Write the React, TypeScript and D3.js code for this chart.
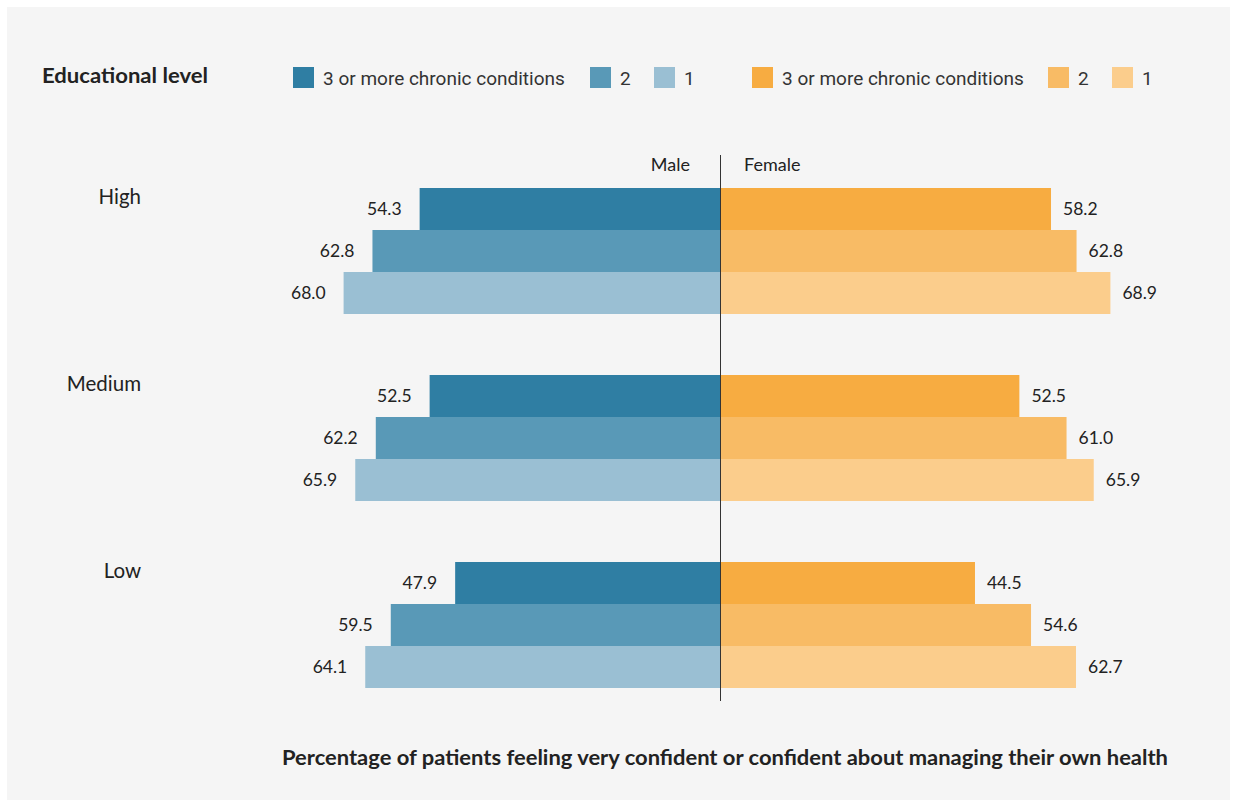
import React from "react";
import * as d3 from "d3";

const levels = ["High", "Medium", "Low"];
const conditions = ["3 or more chronic conditions", "2", "1"];
const maleValues = [
  [54.3, 62.8, 68.0],
  [52.5, 62.2, 65.9],
  [47.9, 59.5, 64.1],
];
const femaleValues = [
  [58.2, 62.8, 68.9],
  [52.5, 61.0, 65.9],
  [44.5, 54.6, 62.7],
];
const maleColors = ["#2f7ea3", "#5999b7", "#9abfd3"];
const femaleColors = ["#f7ac41", "#f8bb65", "#fbcd8c"];

const W = 1237;
const H = 807;
const CX = 721;

export default function App() {
  const xM = d3.scaleLinear().domain([0, 100]).range([CX, CX - 555]);
  const xF = d3.scaleLinear().domain([0, 100]).range([728, 728 + 555]);
  const yGroup = d3.scaleBand().domain(levels).range([188, 749]).paddingInner(0);
  const yBar = d3.scaleBand().domain(conditions).range([0, 126]);
  const labelFont = "Lato, 'Open Sans', sans-serif";
  const legendFont = "Roboto, sans-serif";

  const legendItems = [
    { x: 293, color: maleColors[0], label: conditions[0] },
    { x: 590, color: maleColors[1], label: conditions[1] },
    { x: 654, color: maleColors[2], label: conditions[2] },
    { x: 752, color: femaleColors[0], label: conditions[0] },
    { x: 1048, color: femaleColors[1], label: conditions[1] },
    { x: 1112, color: femaleColors[2], label: conditions[2] },
  ];

  return (
    <svg width={W} height={H} style={{ position: "absolute", left: 0, top: 0 }}>
      <rect x={0} y={0} width={W} height={H} fill="#ffffff" />
      <rect x={7} y={7} width={1223} height={793} fill="#f5f5f5" />
      <text x={42} y={83} fontFamily={labelFont} fontWeight={700} fontSize={20} fill="#222"
        textLength={166} lengthAdjust="spacingAndGlyphs">
        Educational level
      </text>
      {legendItems.map((d, i) => (
        <g key={i}>
          <rect x={d.x} y={67} width={21} height={21} fill={d.color} />
          <text x={d.x + 30} y={85} fontFamily={legendFont} fontSize={19} fill="#333">
            {d.label}
          </text>
        </g>
      ))}
      <text x={690} y={171} textAnchor="end" fontFamily={labelFont} fontSize={18} fill="#222">
        Male
      </text>
      <text x={744} y={171} fontFamily={labelFont} fontSize={18} fill="#222">
        Female
      </text>
      {levels.map((lvl, gi) => {
        const gy = yGroup(lvl)!;
        return (
          <g key={lvl}>
            <text x={141} y={gy + 16} textAnchor="end" fontFamily={labelFont} fontSize={20.5} fill="#222">
              {lvl}
            </text>
            {conditions.map((c, bi) => {
              const y = gy + yBar(c)!;
              const h = yBar.bandwidth();
              const mv = maleValues[gi][bi];
              const fv = femaleValues[gi][bi];
              return (
                <g key={c}>
                  <rect x={xM(mv)} y={y} width={CX - xM(mv)} height={h} fill={maleColors[bi]} />
                  <rect x={CX} y={y} width={xF(fv) - CX} height={h} fill={femaleColors[bi]} />
                  <text x={xM(mv) - 18} y={y + h / 2} dy="0.35em" textAnchor="end" fontFamily={labelFont} fontSize={17.5} fill="#222">
                    {mv.toFixed(1)}
                  </text>
                  <text x={xF(fv) + 12} y={y + h / 2} dy="0.35em" fontFamily={labelFont} fontSize={17.5} fill="#222">
                    {fv.toFixed(1)}
                  </text>
                </g>
              );
            })}
          </g>
        );
      })}
      <line x1={720.5} x2={720.5} y1={155} y2={701} stroke="#333" strokeWidth={1} />
      <text x={282} y={765} fontFamily={labelFont} fontWeight={700} fontSize={21} fill="#222"
        textLength={886} lengthAdjust="spacingAndGlyphs">
        Percentage of patients feeling very confident or confident about managing their own health
      </text>
    </svg>
  );
}
